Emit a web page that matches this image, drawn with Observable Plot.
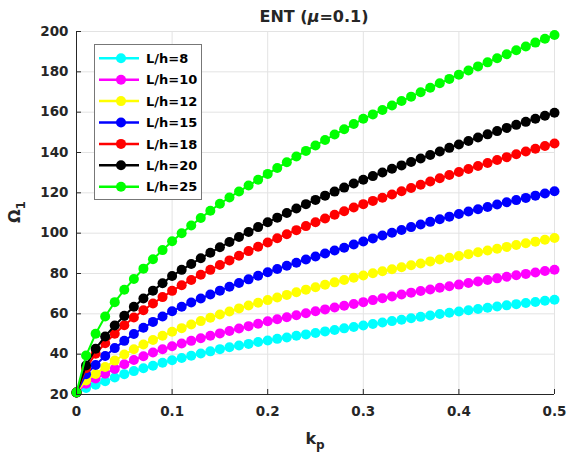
<!DOCTYPE html>
<html><head><meta charset="utf-8">
<script src="https://cdn.jsdelivr.net/npm/d3@7"></script>
<script src="https://cdn.jsdelivr.net/npm/@observablehq/plot@0.6"></script>
<style>
body{margin:0;background:#fff;}
#wrap{position:relative;width:568px;height:464px;font-family:"DejaVu Sans",sans-serif;color:#262626;}
.lbl{position:absolute;font-weight:bold;white-space:nowrap;text-align:center;}
.lbl sub{font-size:12px;vertical-align:-5px;line-height:0;}
</style></head><body><div id="wrap"></div>
<script>
const kp = [0,0.01,0.02,0.03,0.04,0.05,0.06,0.07,0.08,0.09,0.1,0.11,0.12,0.13,0.14,0.15,0.16,0.17,0.18,0.19,0.2,0.21,0.22,0.23,0.24,0.25,0.26,0.27,0.28,0.29,0.3,0.31,0.32,0.33,0.34,0.35,0.36,0.37,0.38,0.39,0.4,0.41,0.42,0.43,0.44,0.45,0.46,0.47,0.48,0.49,0.5];
const omega8 = [21.0,23.2,24.8,26.6,28.4,30.1,31.6,33.0,34.3,35.7,37.0,38.1,39.2,40.3,41.4,42.5,43.4,44.3,45.1,46.0,46.8,47.6,48.3,49.1,49.8,50.5,51.3,52.0,52.8,53.5,54.2,55.0,55.7,56.4,57.1,57.8,58.5,59.2,59.9,60.5,61.2,61.8,62.4,63.0,63.6,64.2,64.8,65.4,65.9,66.5,67.0];
const omega10 = [21.0,25.3,27.9,30.3,32.7,35.0,37.1,39.0,40.8,42.4,43.9,45.3,46.6,47.9,49.1,50.3,51.5,52.7,53.9,55.1,56.3,57.3,58.3,59.3,60.3,61.3,62.2,63.1,64.0,64.9,65.8,66.8,67.7,68.6,69.6,70.5,71.3,72.1,72.9,73.7,74.5,75.3,76.0,76.8,77.6,78.4,79.1,79.8,80.5,81.2,81.9];
const omega12 = [21.0,27.0,30.2,33.6,36.8,39.8,42.4,44.8,47.0,49.1,51.1,52.9,54.7,56.4,58.1,59.7,61.2,62.7,64.1,65.5,66.8,68.1,69.4,70.7,72.0,73.2,74.4,75.6,76.8,77.9,79.0,80.1,81.1,82.1,83.1,84.1,85.0,86.0,86.9,87.8,88.7,89.6,90.5,91.4,92.3,93.2,94.1,95.0,95.8,96.7,97.6];
const omega15 = [21.0,30.0,34.6,39.1,43.0,46.6,50.0,53.1,56.0,58.7,61.3,63.5,65.6,67.6,69.6,71.5,73.4,75.3,77.1,78.9,80.6,82.2,83.8,85.3,86.9,88.4,89.9,91.4,92.8,94.4,95.9,97.4,98.8,100.2,101.6,103.0,104.3,105.6,106.9,108.2,109.5,110.7,111.9,113.0,114.2,115.3,116.4,117.5,118.6,119.7,120.8];
const omega18 = [21.0,33.0,40.2,45.4,50.1,54.3,58.2,61.8,65.1,68.3,71.4,74.2,76.8,79.4,81.8,84.2,86.5,88.8,91.1,93.3,95.4,97.5,99.5,101.5,103.5,105.4,107.3,109.1,110.9,112.7,114.4,116.0,117.6,119.2,120.8,122.4,124.0,125.6,127.2,128.8,130.3,131.8,133.3,134.8,136.3,137.7,139.1,140.5,141.9,143.2,144.5];
const omega20 = [21.0,34.4,42.7,48.8,54.2,59.0,63.5,67.6,71.5,75.2,78.8,81.8,84.7,87.6,90.3,93.0,95.6,98.1,100.6,103.0,105.4,107.7,110.0,112.2,114.4,116.5,118.6,120.6,122.6,124.6,126.5,128.3,130.1,131.9,133.6,135.3,137.0,138.8,140.5,142.3,144.0,145.7,147.4,149.0,150.6,152.2,153.7,155.2,156.7,158.2,159.7];
const omega25 = [21.0,39.3,50.1,58.7,65.8,71.9,77.3,82.4,87.1,91.6,96.0,100.0,103.8,107.5,111.1,114.6,117.7,120.7,123.6,126.5,129.4,132.3,135.2,138.0,140.8,143.5,146.2,148.9,151.5,154.1,156.7,158.9,161.1,163.3,165.5,167.7,169.9,172.1,174.3,176.5,178.6,180.7,182.7,184.7,186.7,188.7,190.7,192.6,194.5,196.4,198.3];
const seriesLabels = ["L/h=8","L/h=10","L/h=12","L/h=15","L/h=18","L/h=20","L/h=25"];
const seriesColors = ["#00ffff","#ff00ff","#ffff00","#0000ff","#ff0000","#000000","#00ff00"];
const seriesValues = [omega8, omega10, omega12, omega15, omega18, omega20, omega25];
const xTicks = [0,0.1,0.2,0.3,0.4,0.5];
const yTicks = [20,40,60,80,100,120,140,160,180,200];

const tables = seriesValues.map(vals => kp.map((k,i) => ({kp:k, omega:vals[i]})));
const seriesMarks = tables.flatMap((t, s) => [
  Plot.line(t, {x:"kp", y:"omega", stroke:seriesColors[s], strokeWidth:2}),
  Plot.dot(t, {x:"kp", y:"omega", r:5, fill:seriesColors[s], stroke:"none"})
]);

const chart = Plot.plot({
  width:568, height:464,
  marginLeft:76, marginRight:14, marginTop:31, marginBottom:70,
  x:{domain:[0,0.5]},
  y:{domain:[20,200]},
  style:{fontFamily:"DejaVu Sans", fontSize:"13.5px", fontWeight:"bold", color:"#262626", background:"white", overflow:"visible"},
  marks:[
    Plot.gridX(xTicks, {stroke:"#e3e3e3", strokeOpacity:1}),
    Plot.gridY(yTicks, {stroke:"#e3e3e3", strokeOpacity:1}),
    ...seriesMarks,
    Plot.ruleX([0], {stroke:"#262626"}),
    Plot.ruleY([20], {stroke:"#262626"}),
    Plot.axisX(xTicks, {tickSize:-5, tickPadding:17, tickFormat:d => String(d), label:null}),
    Plot.axisY(yTicks, {tickSize:-5, tickPadding:13, tickFormat:d => String(d), label:null})
  ]
});
const wrap = document.getElementById("wrap");
wrap.appendChild(chart);

function addLabel(html, css){
  const d = document.createElement("div");
  d.className = "lbl";
  d.innerHTML = html;
  Object.assign(d.style, css);
  wrap.appendChild(d);
}
addLabel("ENT (<i>μ</i>=0.1)", {left:"164px", top:"9px", width:"300px", fontSize:"16px", lineHeight:"16px"});
addLabel("k<sub>p</sub>", {left:"265px", top:"431px", width:"100px", fontSize:"16px", lineHeight:"16px"});
addLabel("Ω<sub>1</sub>", {left:"-15px", top:"202px", width:"60px", height:"20px", fontSize:"16px", lineHeight:"20px", transform:"rotate(-90deg)"});

// legend
const lg = d3.select(wrap).append("svg")
  .attr("width",108).attr("height",156)
  .style("position","absolute").style("left","94px").style("top","44px")
  .style("font-family","DejaVu Sans").style("font-weight","bold").style("font-size","13px");
lg.append("rect").attr("x",0.5).attr("y",0.5).attr("width",107).attr("height",155)
  .attr("fill","white").attr("stroke","#777");
seriesLabels.forEach((lab, i) => {
  const cy = 14.3 + i*21.4;
  lg.append("line").attr("x1",5).attr("x2",45).attr("y1",cy).attr("y2",cy)
    .attr("stroke",seriesColors[i]).attr("stroke-width",2.5);
  lg.append("circle").attr("cx",27).attr("cy",cy).attr("r",5).attr("fill",seriesColors[i]);
  lg.append("text").attr("x",52).attr("y",cy).attr("dy","0.36em").attr("fill","#000").text(lab);
});
</script></body></html>
